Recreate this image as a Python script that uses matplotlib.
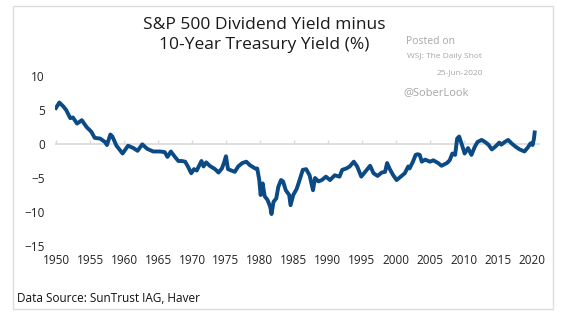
import matplotlib
matplotlib.use("Agg")
import matplotlib.pyplot as plt
import numpy as np

# S&P 500 dividend yield less 10-year treasury yield, %
years = [1950.0, 1950.5, 1951.1, 1951.5, 1952.1, 1952.5, 1953.1, 1953.8, 1954.5, 1955.2,
         1955.7, 1956.5, 1957.2, 1957.5, 1958.0, 1958.3, 1958.9, 1959.8, 1960.6, 1961.4,
         1962.0, 1962.7, 1963.4, 1964.3, 1965.3, 1966.0, 1966.4, 1966.9, 1967.5, 1968.0,
         1968.5, 1969.0, 1969.4, 1969.9, 1970.3, 1970.7, 1971.1, 1971.4, 1971.7, 1972.1,
         1972.6, 1973.4, 1973.9, 1974.4, 1974.7, 1975.0, 1975.3, 1975.8, 1976.3, 1976.8,
         1977.4, 1978.0, 1978.5, 1979.3, 1979.6, 1979.9, 1980.1, 1980.4, 1980.7, 1981.1,
         1981.5, 1981.7, 1982.0, 1982.4, 1982.7, 1983.1, 1983.4, 1983.8, 1984.3, 1984.5,
         1984.9, 1985.4, 1985.8, 1986.3, 1986.8, 1987.3, 1987.8, 1988.1, 1988.6, 1989.1,
         1989.7, 1990.3, 1991.0, 1991.7, 1992.1, 1992.7, 1993.2, 1993.8, 1994.3, 1994.9,
         1995.7, 1996.2, 1996.7, 1997.3, 1997.9, 1998.4, 1998.7, 1999.1, 1999.6, 2000.1,
         2000.7, 2001.3, 2001.8, 2002.0, 2002.5, 2002.9, 2003.2, 2003.5, 2003.8, 2004.3,
         2005.0, 2005.5, 2006.2, 2006.7, 2007.5, 2007.9, 2008.3, 2008.7, 2009.0, 2009.3,
         2009.7, 2010.1, 2010.6, 2011.1, 2011.6, 2012.0, 2012.6, 2013.1, 2013.6, 2014.1,
         2014.6, 2015.2, 2015.5, 2016.0, 2016.5, 2017.0, 2017.6, 2018.2, 2018.9, 2019.4,
         2019.8, 2020.1, 2020.3, 2020.4]
spread = [5.3, 6.1, 5.5, 5.0, 3.8, 3.9, 3.0, 3.5, 2.5, 1.8,
          0.9, 0.8, 0.3, -0.15, 1.4, 1.1, -0.25, -1.4, -0.25, -0.6,
          -1.0, -0.05, -0.7, -1.1, -1.1, -1.2, -1.9, -1.1, -1.9, -2.5,
          -2.5, -2.6, -3.3, -4.3, -3.7, -3.9, -3.1, -2.5, -3.3, -2.7,
          -3.2, -3.7, -4.2, -3.6, -2.8, -1.8, -3.7, -3.9, -4.1, -3.3,
          -2.8, -2.6, -3.1, -3.6, -3.6, -5.3, -7.5, -5.8, -7.7, -8.2,
          -9.2, -10.3, -8.5, -8.0, -6.3, -5.3, -5.5, -6.8, -7.5, -9.0,
          -7.5, -6.6, -5.4, -3.8, -3.7, -4.6, -6.8, -5.0, -5.5, -5.3,
          -4.8, -5.3, -4.6, -4.8, -3.8, -3.6, -3.3, -2.6, -3.3, -4.8,
          -3.8, -3.2, -4.3, -4.7, -4.2, -4.1, -2.8, -3.7, -4.6, -5.3,
          -4.8, -4.3, -3.3, -3.6, -2.6, -1.6, -1.5, -1.6, -2.6, -2.3,
          -2.6, -2.4, -2.8, -3.2, -2.8, -2.4, -1.4, -1.6, 0.8, 1.1,
          -0.1, -1.4, -0.6, -1.6, -0.4, 0.3, 0.6, 0.3, -0.1, -0.8,
          -0.4, 0.2, -0.1, 0.3, 0.6, 0.1, -0.4, -0.8, -1.1, -0.5,
          0.1, -0.15, 0.8, 1.7]

xticks = list(range(1950, 2021, 5))
yticks = [-15, -10, -5, 0, 5, 10]

plt.rcParams['font.family'] = ['Open Sans', 'DejaVu Sans']

W, H = 564, 322
fig = plt.figure(figsize=(W / 100, H / 100), dpi=100)
fig.patch.set_facecolor('white')

# light frame around the whole chart
frame = plt.Rectangle((13 / W, 1 - 309 / H), 540 / W, 303 / H, transform=fig.transFigure,
                      fill=False, edgecolor='#dddddd', linewidth=1)
fig.patches.append(frame)

ax = fig.add_axes([54.6 / W, 1 - 246 / H, 485.5 / W, 170 / H])
ax.set_xlim(1949.8, 2021.2)
ax.set_ylim(-15, 10)
for s in ax.spines.values():
    s.set_visible(False)
ax.set_xticks(xticks)
ax.set_yticks(yticks)
ax.tick_params(axis='both', length=0, labelsize=8.5, colors='#222222')
ax.tick_params(axis='y', pad=7)
ax.tick_params(axis='x', pad=6)

# zero line with small ticks
ax.axhline(0, color='#d9d9d9', linewidth=1.2, zorder=1)
sec = ax.secondary_xaxis(0, transform=ax.transData)
for s in sec.spines.values():
    s.set_visible(False)
sec.set_xticks(xticks)
sec.set_xticklabels([])
sec.tick_params(direction='in', length=3, color='#d9d9d9', width=1)

ax.plot(years, spread, color='#0b4a84', linewidth=2.8, solid_joinstyle='round', zorder=3)

fig.text(264 / W, 1 - 25 / H, 'S&P 500 Dividend Yield minus', ha='center', va='center',
         fontsize=12.5, color='#1a1a1a', fontweight='medium')
fig.text(264 / W, 1 - 45 / H, '10-Year Treasury Yield (%)', ha='center', va='center',
         fontsize=12.5, color='#1a1a1a', fontweight='medium')

grey = '#a6a6a6'
fig.text(406 / W, 1 - 41 / H, 'Posted on', ha='left', va='center', fontsize=7.5, color=grey)
fig.text(407 / W, 1 - 57 / H, 'WSJ: The Daily Shot', ha='left', va='center', fontsize=6, color=grey)
fig.text(483 / W, 1 - 73 / H, '25-Jun-2020', ha='right', va='center', fontsize=6, color=grey)
fig.text(403 / W, 1 - 93 / H, '@SoberLook', ha='left', va='center', fontsize=8, color=grey)

fig.text(17 / W, 1 - 298 / H, 'Data Source: SunTrust IAG, Haver', ha='left', va='center',
         fontsize=8.5, color='#111111')

fig.savefig('out.png', dpi=100, facecolor='white')
